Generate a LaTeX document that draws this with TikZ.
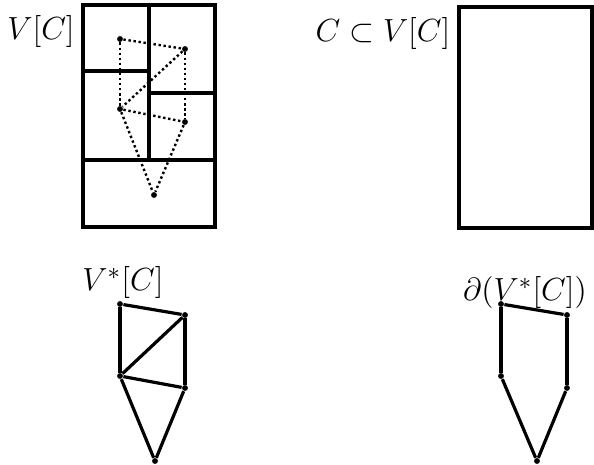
\documentclass[tikz,border=0pt]{standalone}
\usepackage{amsmath,amssymb}
\usetikzlibrary{positioning}
\begin{document}
\begin{tikzpicture}[
  x=0.375pt,y=-0.375pt,
  cell/.style={line width=1.2pt},
  link/.style={line width=1.2pt},
  dual/.style={line width=0.9pt,densely dotted},
  vtx/.style={circle,fill=black,inner sep=0pt,minimum size=2.2pt},
  lbl/.style={font=\fontsize{13.2}{16}\selectfont,inner sep=1pt}
]
\useasboundingbox (0,0) rectangle (594,465);

% Cells of V[C] with the dotted dual graph
\draw[cell] (83,5) rectangle (215,227);
\draw[cell] (149,5) -- (149,160);
\draw[cell] (83,71) -- (149,71);
\draw[cell] (149,93) -- (215,93);
\draw[cell] (83,160) -- (215,160);
\node[lbl] (vclabel) at (41,32) {$V[C]$};

\node[vtx] (a1) at (120,39) {};
\node[vtx] (a2) at (185,49) {};
\node[vtx] (a3) at (120,109) {};
\node[vtx] (a4) at (185,122) {};
\node[vtx] (a5) at (154,195) {};
\draw[dual] (a1) -- (a2);
\draw[dual] (a1) -- (a3);
\draw[dual] (a2) -- (a3);
\draw[dual] (a2) -- (a4);
\draw[dual] (a3) -- (a4);
\draw[dual] (a3) -- (a5);
\draw[dual] (a4) -- (a5);

% Single cell C
\draw[cell] (459,7) rectangle (592,228);
\node[lbl] (subsetlabel) at (383,34) {$C\subset V[C]$};

% Dual complex V*[C]
\node[lbl] (vstarlabel) at (123,283) {$V^*[C]$};
\node[vtx] (b1) at (120,304) {};
\node[vtx] (b2) at (185,315) {};
\node[vtx] (b3) at (120,376) {};
\node[vtx] (b4) at (185,388) {};
\node[vtx] (b5) at (155,461) {};
\draw[link] (b1) -- (b2);
\draw[link] (b1) -- (b3);
\draw[link] (b2) -- (b3);
\draw[link] (b2) -- (b4);
\draw[link] (b3) -- (b4);
\draw[link] (b3) -- (b5);
\draw[link] (b4) -- (b5);

% Boundary of V*[C]
\node[lbl] (boundlabel) at (525,293) {$\partial(V^*[C])$};
\node[vtx] (c1) at (501,304) {};
\node[vtx] (c2) at (567,315) {};
\node[vtx] (c3) at (501,376) {};
\node[vtx] (c4) at (567,388) {};
\node[vtx] (c5) at (537,461) {};
\draw[link] (c1) -- (c2);
\draw[link] (c1) -- (c3);
\draw[link] (c2) -- (c4);
\draw[link] (c3) -- (c5);
\draw[link] (c4) -- (c5);
\end{tikzpicture}
\end{document}
